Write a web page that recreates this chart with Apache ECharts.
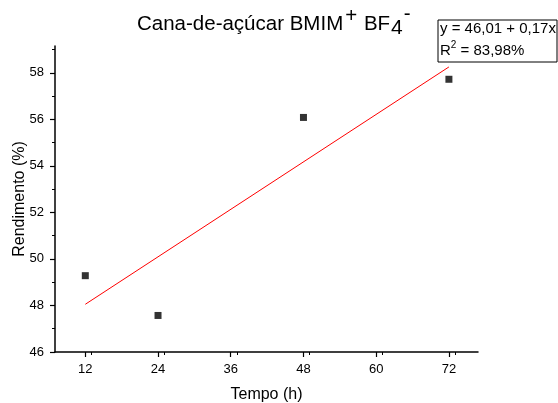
<!DOCTYPE html>
<html>
<head>
<meta charset="utf-8">
<script src="https://cdn.jsdelivr.net/npm/echarts@6/dist/echarts.min.js"></script>
<style>html,body{margin:0;padding:0;background:#fff;}#c{width:558px;height:403px;}</style>
</head>
<body>
<div id="c"></div>
<script>
const tempo = [12, 24, 48, 72];
const rendimento = [49.28, 47.57, 56.08, 57.72];
const fitX = [12, 72];
const fitY = [48.05, 58.25];
const xTicks = [12, 24, 36, 48, 60, 72];
const yTicks = [46, 48, 50, 52, 54, 56, 58];
const titleParts = ['Cana-de-açúcar BMIM', '+', ' BF', '4', '-'];
const fitLine1 = 'y = 46,01 + 0,17x';
const fitLine2 = ['R', '2', ' = 83,98%'];

const fontFam = '"Liberation Sans", Arial, sans-serif';
const ctx = document.createElement('canvas').getContext('2d');
function w(text, size) { ctx.font = size + 'px ' + fontFam; return ctx.measureText(text).width; }

// title pieces: fontSize, vertical centre, gap after
const tSizes = [20.5, 20.5, 20.5, 21, 20.5];
const tY = [24.2, 16.8, 24.2, 28.6, 14.8];
const tGap = [2, 1, 1, 1, 0];
const titleGraphics = [];
let tx = 137;
titleParts.forEach((t, i) => {
  titleGraphics.push({
    type: 'text', x: tx, y: tY[i], z: 11, silent: true,
    style: {text: t, font: tSizes[i] + 'px ' + fontFam, fill: '#000', align: 'left', verticalAlign: 'middle'}
  });
  tx += w(t, tSizes[i]) + tGap[i];
});

const fitGraphics = [
  {type: 'rect', x: 438, y: 20, z: 10, silent: true,
   shape: {width: 119, height: 42}, style: {fill: '#fff', stroke: '#000', lineWidth: 1}},
  {type: 'text', x: 440, y: 29, z: 11, silent: true,
   style: {text: fitLine1, font: '15px ' + fontFam, fill: '#000', align: 'left', verticalAlign: 'middle'}}
];
let rx = 440;
const rSizes = [15, 10, 15];
const rY = [50.5, 45.5, 50.5];
fitLine2.forEach((t, i) => {
  fitGraphics.push({type: 'text', x: rx, y: rY[i], z: 11, silent: true,
    style: {text: t, font: rSizes[i] + 'px ' + fontFam, fill: '#000', align: 'left', verticalAlign: 'middle'}});
  rx += w(t, rSizes[i]);
});

const chart = echarts.init(document.getElementById('c'), null, {renderer: 'canvas'});
chart.setOption({
  animation: false,
  backgroundColor: '#fff',
  grid: {left: 55, right: 80, top: 46, bottom: 51, containLabel: false, outerBoundsMode: 'none'},
  xAxis: {
    type: 'value', min: 7, max: 76.8, interval: 12,
    name: 'Tempo (h)', nameLocation: 'middle', nameGap: 35,
    nameTextStyle: {fontFamily: fontFam, fontSize: 16, color: '#000'},
    axisLine: {show: true, onZero: false, lineStyle: {color: '#000', width: 1.5}},
    axisTick: {show: true, inside: false, length: 5, lineStyle: {color: '#000', width: 1.2},
      customValues: xTicks},
    minorTick: {show: true, splitNumber: 2, length: 3, lineStyle: {color: '#000', width: 1}},
    axisLabel: {fontFamily: fontFam, fontSize: 13, color: '#000', margin: 11,
      customValues: xTicks, formatter: v => String(v)},
    splitLine: {show: false}
  },
  yAxis: {
    type: 'value', min: 46, max: 59.15, interval: 2,
    name: 'Rendimento (%)', nameLocation: 'middle', nameGap: 27, nameMoveOverlap: false,
    nameTextStyle: {fontFamily: fontFam, fontSize: 16, color: '#000'},
    axisLine: {show: true, onZero: false, lineStyle: {color: '#000', width: 1.5}},
    axisTick: {show: true, inside: false, length: 5, lineStyle: {color: '#000', width: 1.2},
      customValues: yTicks},
    minorTick: {show: true, splitNumber: 2, length: 3, lineStyle: {color: '#000', width: 1}},
    axisLabel: {fontFamily: fontFam, fontSize: 13, color: '#000', margin: 11,
      customValues: yTicks, formatter: v => String(v)},
    splitLine: {show: false}
  },
  series: [
    {
      type: 'line', data: fitX.map((x, i) => [x, fitY[i]]),
      symbol: 'none', lineStyle: {color: '#ff0000', width: 1}, z: 2
    },
    {
      type: 'scatter', data: tempo.map((x, i) => [x, rendimento[i]]),
      symbol: 'rect', symbolSize: 7, itemStyle: {color: '#000'}, z: 3
    }
  ],
  graphic: titleGraphics.concat(fitGraphics)
});
</script>
</body>
</html>
